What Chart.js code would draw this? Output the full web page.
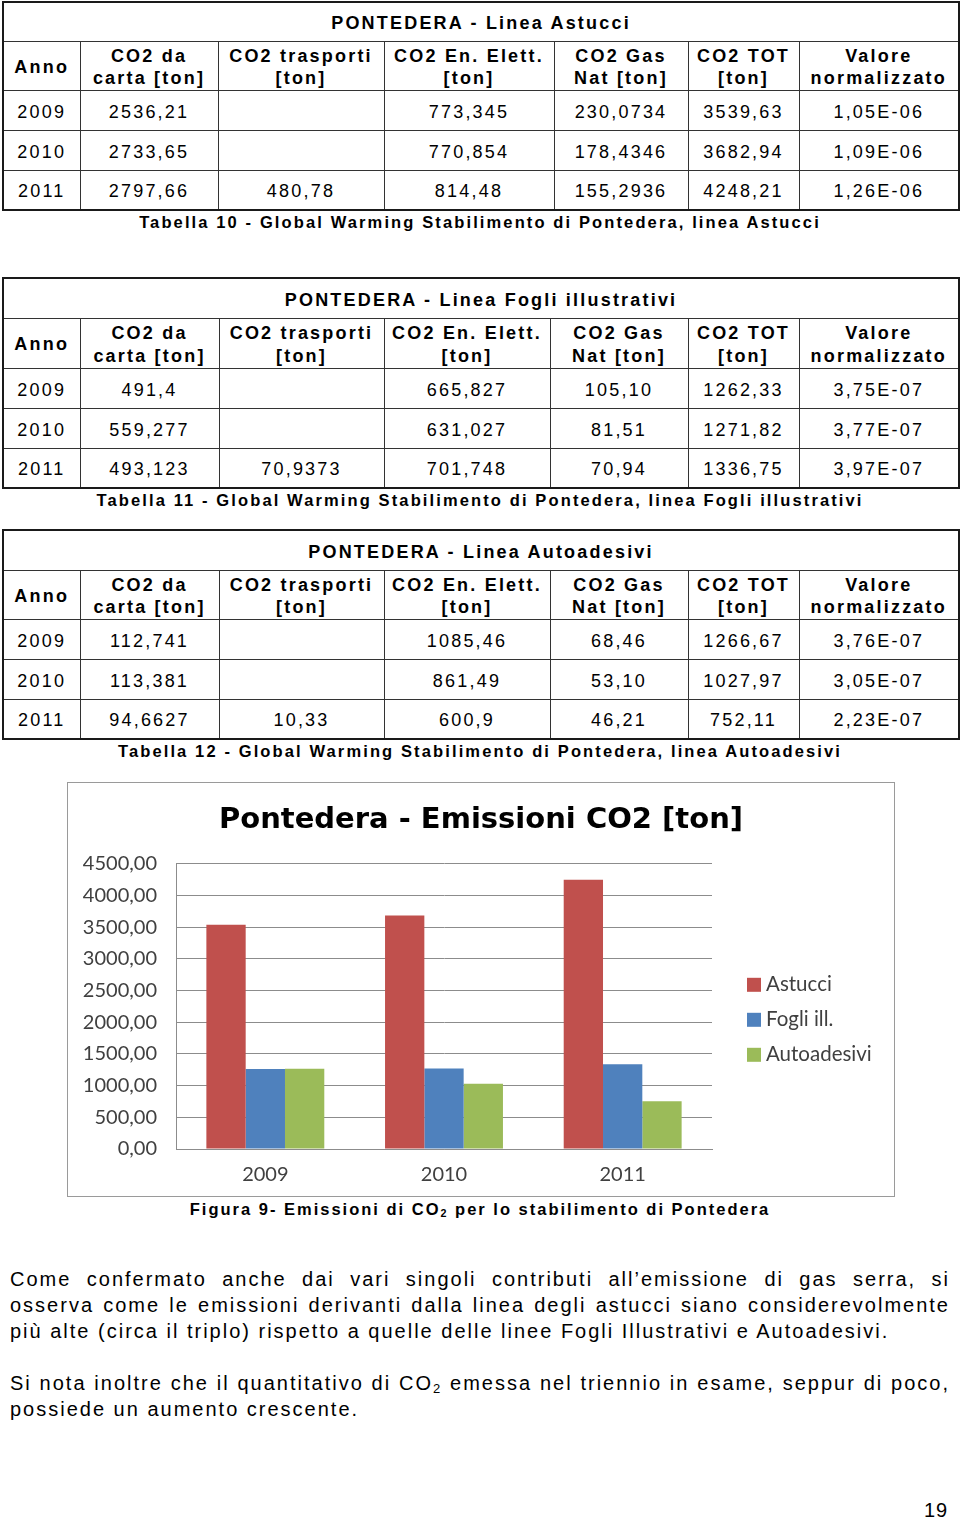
<!DOCTYPE html>
<html>
<head>
<meta charset="utf-8">
<script src="https://cdn.jsdelivr.net/npm/chart.js@4"></script>
<style>
  html,body{margin:0;padding:0;background:#fff;}
  body{width:960px;height:1519px;position:relative;font-family:"Liberation Sans",Arial,sans-serif;color:#000;overflow:hidden;}
  table.t{position:absolute;left:2px;width:956px;border-collapse:collapse;table-layout:fixed;border:2px solid #1a1a1a;}
  table.t td{border:1px solid #333;text-align:center;vertical-align:middle;font-size:18px;letter-spacing:2.2px;padding:4px 0 0 0;line-height:23px;white-space:nowrap;}
  table.t tr.ti td{font-weight:bold;}
  table.t tr.hd td{font-weight:bold;padding-top:3px;line-height:22.5px;}
  .cap{position:absolute;left:0;width:960px;text-align:center;font-weight:bold;font-size:16.5px;letter-spacing:2.12px;white-space:nowrap;}
  .para{position:absolute;left:10px;width:940px;font-size:20px;letter-spacing:2px;line-height:26px;text-align:justify;}
  sub{font-size:0.65em;vertical-align:-0.2em;line-height:0;}
  #frame{position:absolute;left:67px;top:782px;width:828px;height:415px;box-sizing:border-box;border:1px solid #9a9a9a;background:#fff;}
  #frame canvas{position:absolute;left:0;top:0;}
  .pn{position:absolute;left:924px;top:1499px;font-size:20px;letter-spacing:1px;}
</style>
</head>
<body>
<div id="tables"></div>

<div class="cap" style="top:213px">Tabella 10 - Global Warming Stabilimento di Pontedera, linea Astucci</div>
<div class="cap" style="top:491px">Tabella 11 - Global Warming Stabilimento di Pontedera, linea Fogli illustrativi</div>
<div class="cap" style="top:742px">Tabella 12 - Global Warming Stabilimento di Pontedera, linea Autoadesivi</div>

<div id="frame"><canvas id="c" width="826" height="413"></canvas></div>

<div class="cap" style="top:1200px;letter-spacing:2px">Figura 9- Emissioni di CO<sub>2</sub> per lo stabilimento di Pontedera</div>

<div class="para" style="top:1266px">Come confermato anche dai vari singoli contributi all’emissione di gas serra, si osserva come le emissioni derivanti dalla linea degli astucci siano considerevolmente più alte (circa il triplo) rispetto a quelle delle linee Fogli Illustrativi e Autoadesivi.</div>
<div class="para" style="top:1370px">Si nota inoltre che il quantitativo di CO<sub>2</sub> emessa nel triennio in esame, seppur di poco, possiede un aumento crescente.</div>

<div class="pn">19</div>

<script>
// ---- Data ----
const years = ["2009", "2010", "2011"];
const headers = ["Anno", "CO2 da<br>carta [ton]", "CO2 trasporti<br>[ton]", "CO2 En. Elett.<br>[ton]", "CO2 Gas<br>Nat [ton]", "CO2 TOT<br>[ton]", "Valore<br>normalizzato"];

const astucciCarta = ["2536,21", "2733,65", "2797,66"];
const astucciTrasporti = ["", "", "480,78"];
const astucciEnElett = ["773,345", "770,854", "814,48"];
const astucciGasNat = ["230,0734", "178,4346", "155,2936"];
const astucciTot = ["3539,63", "3682,94", "4248,21"];
const astucciNorm = ["1,05E-06", "1,09E-06", "1,26E-06"];

const fogliCarta = ["491,4", "559,277", "493,123"];
const fogliTrasporti = ["", "", "70,9373"];
const fogliEnElett = ["665,827", "631,027", "701,748"];
const fogliGasNat = ["105,10", "81,51", "70,94"];
const fogliTot = ["1262,33", "1271,82", "1336,75"];
const fogliNorm = ["3,75E-07", "3,77E-07", "3,97E-07"];

const autoCarta = ["112,741", "113,381", "94,6627"];
const autoTrasporti = ["", "", "10,33"];
const autoEnElett = ["1085,46", "861,49", "600,9"];
const autoGasNat = ["68,46", "53,10", "46,21"];
const autoTot = ["1266,67", "1027,97", "752,11"];
const autoNorm = ["3,76E-07", "3,05E-07", "2,23E-07"];

// chart series (CO2 TOT, tonnes)
const seriesLabels = ["Astucci", "Fogli ill.", "Autoadesivi"];
const seriesAstucci = [3539.63, 3682.94, 4248.21];
const seriesFogli = [1262.33, 1271.82, 1336.75];
const seriesAutoadesivi = [1266.67, 1027.97, 752.11];
const chartTitle = "Pontedera - Emissioni CO2 [ton]";
const yMin = 0, yMax = 4500, yStep = 500;

// ---- Tables ----
function buildTable(top, title, cols, widths, rowH) {
  const t = document.createElement('table');
  t.className = 't';
  t.style.top = top + 'px';
  let html = '<colgroup>' + widths.map(w => '<col style="width:' + w + 'px">').join('') + '</colgroup>';
  html += '<tr class="ti" style="height:' + rowH[0] + 'px"><td colspan="7">' + title + '</td></tr>';
  html += '<tr class="hd" style="height:' + rowH[1] + 'px">' + headers.map(h => '<td>' + h + '</td>').join('') + '</tr>';
  years.forEach((y, i) => {
    html += '<tr style="height:' + rowH[2] + 'px"><td>' + y + '</td>' + cols.map(c => '<td>' + c[i] + '</td>').join('') + '</tr>';
  });
  t.innerHTML = html;
  document.getElementById('tables').appendChild(t);
}
buildTable(1, "PONTEDERA - Linea Astucci",
  [astucciCarta, astucciTrasporti, astucciEnElett, astucciGasNat, astucciTot, astucciNorm],
  [77, 138, 166, 170, 134, 111, 160], [39, 49, 40]);
buildTable(277, "PONTEDERA - Linea Fogli illustrativi",
  [fogliCarta, fogliTrasporti, fogliEnElett, fogliGasNat, fogliTot, fogliNorm],
  [77, 139, 165, 166, 138, 111, 160], [40, 50, 40]);
buildTable(529, "PONTEDERA - Linea Autoadesivi",
  [autoCarta, autoTrasporti, autoEnElett, autoGasNat, autoTot, autoNorm],
  [77, 139, 165, 166, 138, 111, 160], [40, 48, 40]);

// ---- Chart ----
const legendPlugin = {
  id: 'sideLegend',
  afterDraw(chart) {
    const ctx = chart.ctx, a = chart.chartArea;
    ctx.save();
    ctx.font = '20.5px Lato';
    ctx.textBaseline = 'middle';
    chart.data.datasets.forEach((ds, i) => {
      const yc = a.top + 121 + i * 35;
      const x = a.right + 35;
      ctx.fillStyle = ds.backgroundColor;
      ctx.fillRect(x, yc - 7, 14, 14);
      ctx.fillStyle = '#404040';
      ctx.fillText(ds.label, x + 19, yc);
    });
    ctx.restore();
  }
};

new Chart(document.getElementById('c'), {
  type: 'bar',
  data: {
    labels: years,
    datasets: [
      { label: seriesLabels[0], data: seriesAstucci, backgroundColor: '#C0504D' },
      { label: seriesLabels[1], data: seriesFogli, backgroundColor: '#4F81BD' },
      { label: seriesLabels[2], data: seriesAutoadesivi, backgroundColor: '#9BBB59' }
    ]
  },
  options: {
    responsive: false,
    animation: false,
    devicePixelRatio: 1,
    layout: { padding: { left: 0, right: 0, top: 0, bottom: 0 } },
    datasets: { bar: { categoryPercentage: 0.66, barPercentage: 1.0, borderWidth: 0 } },
    plugins: {
      legend: { display: false },
      tooltip: { enabled: false },
      title: {
        display: true, text: chartTitle, color: '#000',
        font: { family: 'DejaVu Sans', weight: 'bold', size: 29, lineHeight: 1.2 },
        padding: { top: 20, bottom: 26 }
      }
    },
    scales: {
      x: {
        grid: { display: false, drawTicks: false },
        border: { display: true, color: '#8c8c8c', width: 1 },
        ticks: { color: '#404040', font: { family: 'Lato', size: 20 }, padding: 14 },
        afterFit(s) { s.height = 47; }
      },
      y: {
        min: yMin, max: yMax,
        grid: { color: '#8c8c8c', lineWidth: 1, drawTicks: false },
        border: { display: true, color: '#8c8c8c', width: 1 },
        ticks: {
          stepSize: yStep, color: '#404040', font: { family: 'Lato', size: 20 }, padding: 19,
          callback: v => v.toFixed(2).replace('.', ',')
        },
        afterFit(s) { s.width = 108; }
      },
      legendSpace: {
        type: 'linear', position: 'right', display: true,
        grid: { display: false, drawTicks: false },
        border: { display: false },
        ticks: { display: false },
        afterFit(s) { s.width = 182; }
      }
    }
  },
  plugins: [legendPlugin]
});
</script>
</body>
</html>
